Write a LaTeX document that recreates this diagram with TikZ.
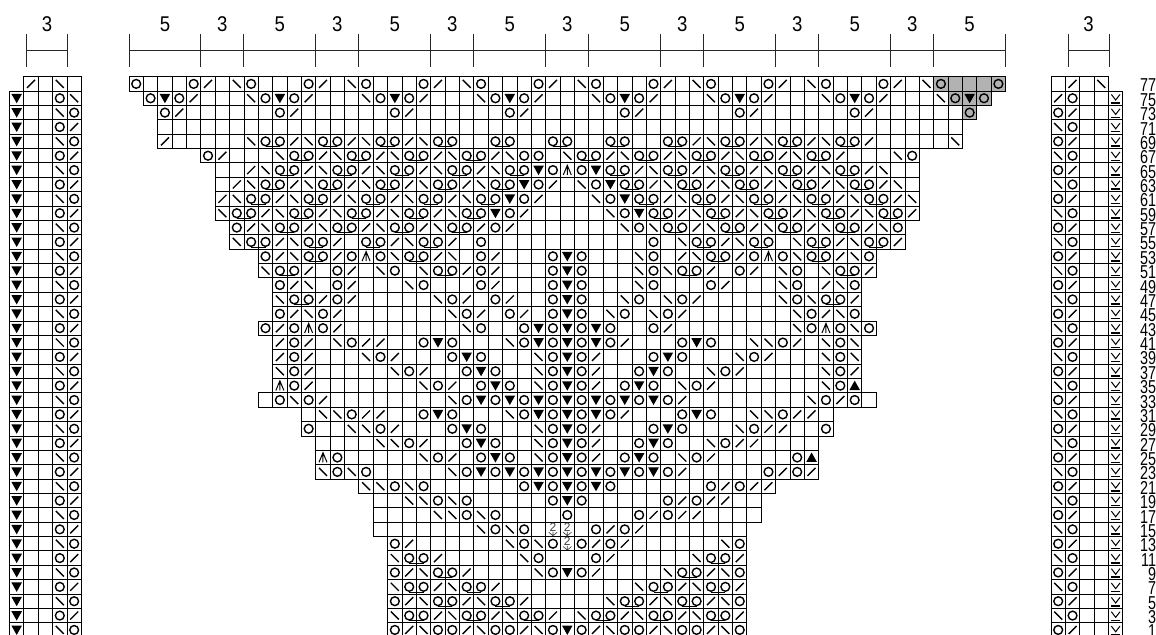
\documentclass[tikz,border=0pt]{standalone}
\usepackage{fontspec}
\usepackage{graphicx}
\setmainfont{Liberation Sans}

\newcount\cellcol
\newcommand{\cellpitch}{14.37}
\newcommand{\charttop}{76.7}

\newcommand{\drawcell}[1]{%
  \pgfmathsetmacro{\cellx}{\chartx+\cellpitch*\cellcol}%
  \pgfmathsetmacro{\celly}{\charttop+\cellpitch*\chartrowno}%
  \draw[cellbox] (\cellx,\celly) rectangle ++(\cellpitch,\cellpitch);%
  \ifx#1-\else
    \pic at ({\cellx+\cellpitch/2},{\celly+\cellpitch/2}) {sym#1};%
  \fi}
\def\scancell#1{\ifx#1;\else\drawcell{#1}\advance\cellcol by 1 \expandafter\scancell\fi}
\newcommand{\chartrow}[4]{%
  \def\chartx{#1}\def\chartrowno{#2}\cellcol=#3\relax
  \expandafter\scancell#4;}

\begin{document}
\begin{tikzpicture}[
    x=0.75pt, y=-0.75pt,
    cellbox/.style={draw=black, line width=0.68pt},
    stitch/.style={draw=black, line width=1.05pt},
    thinstitch/.style={draw=black, line width=0.75pt},
    tick/.style={draw=black!85, line width=0.7pt},
    shaded/.style={fill=black!30},
    repeatlabel/.style={inner sep=0pt, font=\fontsize{16}{16}\selectfont},
    rowlabel/.style={inner sep=0pt, anchor=east, font=\fontsize{14}{14}\selectfont},
    symo/.pic={\draw[stitch] (0,0) circle (4.4);},
    symq/.pic={\draw[stitch] (0,0) circle (4.4);
               \draw[thinstitch] (0,5.2) -- (14.37,5.2);},
    syml/.pic={\draw[stitch] (-4,4) -- (4,-4);},
    symr/.pic={\draw[stitch] (-4,-4) -- (4,4);},
    symv/.pic={\fill (-5.3,-4.4) -- (5.3,-4.4) -- (0,5) -- cycle;},
    syma/.pic={\fill (-5.3,4.4) -- (5.3,4.4) -- (0,-5) -- cycle;},
    symw/.pic={\draw[thinstitch] (0,-4.8) -- (0,4.8) (-4,4.8) -- (0,-4.8) -- (4,4.8);},
    syms/.pic={\draw[thinstitch] (-4.3,-3.8) -- (0,1.8) -- (4.3,-3.8);
               \draw[stitch] (-4.8,4.7) -- (4.8,4.7);},
    symt/.pic={\node[inner sep=0pt, text=black!75, font=\fontsize{9}{9}\selectfont] (twodigit) at (0,-2.4) {2};
               \draw[draw=black!75, line width=0.5pt] (-4.2,2.8) -- (0,6.4) -- (4.2,2.8) (0,2.2) -- (0,6.4);},
]
\clip (0,0) rectangle (1156,635);

\foreach \rowno/\firstcol/\lastcol in {0/56/61, 1/57/60, 2/58/59}
    \fill[shaded] ({129+\cellpitch*\firstcol},{\charttop+\cellpitch*\rowno}) rectangle ({129+\cellpitch*\lastcol},{\charttop+\cellpitch*(\rowno+1)});

\foreach \tickx in {26.7,67.3,1068.3,1109}
    \draw[tick] (\tickx,34.5) -- (\tickx,67.5);
\draw[tick] (26.7,50) -- (67.3,50);
\draw[tick] (1068.3,50) -- (1109,50);
\draw[tick] (129,50) -- (1005.7,50);
\foreach \tickcol in {0,8,...,56}
    \draw[tick] ({129+\cellpitch*\tickcol},34.5) -- ({129+\cellpitch*\tickcol},67.5);
\foreach \tickcol in {5,13,...,61}
    \draw[tick] ({129+\cellpitch*\tickcol},34.5) -- ({129+\cellpitch*\tickcol},67.5);

\node[repeatlabel] (leftrepeat) at (47,24.5) {\scalebox{.87}[1]{3}};
\node[repeatlabel] (rightrepeat) at (1088.5,24.5) {\scalebox{.87}[1]{3}};
\foreach \tickcol in {0,8,...,56}
    \node[repeatlabel] (five\tickcol) at ({129+\cellpitch*(\tickcol+2.5)},24.5) {\scalebox{.87}[1]{5}};
\foreach \tickcol in {5,13,...,53}
    \node[repeatlabel] (three\tickcol) at ({129+\cellpitch*(\tickcol+1.5)},24.5) {\scalebox{.87}[1]{3}};

\foreach \rowno/\startcol/\cells in {
    0/0/o---ol-ro---ol-ro---ol-ro---ol-ro---ol-ro---ol-ro---ol-ro---o,
    1/1/ovol---rovol---rovol---rovol---rovol---rovol---rovol---rovo,
    2/2/ol------ol------ol------ol------ol------ol------ol------o,
    3/2/--------------------------------------------------------,
    4/2/l-----rqolrqolrqolrqo--qo--qo--qo--qolrqolrqolrqol-----r,
    5/5/ol---rqolrqolrqolrqolroo-rqolrqolrqolrqolrqol---ro,
    6/6/--lrqolrqolrqolrqolrqovowovqolrqolrqolrqolrqolr--,
    7/6/-lrqolrqolrqolrqolrqovol-rovqolrqolrqolrqolrqolr-,
    8/6/lrqolrqolrqolrqolrqovol---rovqolrqolrqolrqolrqolr,
    9/6/rqolrqolrqolrqolrqovol-----rovqolrqolrqolrqolrqol,
    10/7/olrqolrqolrqolrqolol-------rorqolrqolrqolrqolro,
    11/7/rqolrqol-qolrqol-o-----------o-rqolrqo-rqolrqol,
    12/9/olrqoloworqolr-ol---ovo---ro-lrqoloworqolro,
    13/9/rqol-ol-ro-rqolol---ovo---rorqol-ol-ro-rqol,
    14/10/olr-ol---ro---ol---ovo---ro---ol---ro-lro,
    15/10/rqolol-----rol-ol--ovo--ro-rol-----rorqol,
    16/10/olrol-------rol-ol-ovo-ro-rol-------rolro,
    17/9/olowol--------ro--ovovovo--ol--------roworo,
    18/10/lol-roll--ovo---rovovovol---ovo--rrol-ror,
    19/10/lol---rol---ovo---rovol---ovo---rol---ror,
    20/10/rol-----rol--ovo--rovol--ovo--rol-----rol,
    21/10/wol-------rol-ovo-rovol-ovo-rol-------roa,
    22/9/-orol--------rovovovovovovovol--------rolo-,
    23/12/-rroll--ovo---rovovovol---ovo--rroll-,
    24/12/o--rrol---ovo---rovol---ovo---roll--o,
    25/13/----rrol--ovo--rovol--ovo--roll----,
    26/13/wo-----rol-ovo-rovol-ovo-rol-----oa,
    27/13/roro-----rovovovovovovovol-----olol,
    28/16/rroro------ovovovo------ololl,
    29/17/--rroro-----ovo-----ololl--,
    30/17/----rroro----o----ololl----,
    31/17/-------roro-tt-olol-------,
    32/18/ol------rorotolol------ro,
    33/18/rqol-----ro---ol-----rqol,
    34/18/olrqol----rovol----rqolro,
    35/18/rqolrqol---------rqolrqol,
    36/18/olrqolrqol-----rqolrqolro,
    37/18/rqolrqolrqol-rqolrqolrqol,
    38/18/olrqolrqolrovolrqolrqolro}
    {\chartrow{129}{\rowno}{\startcol}{\cells}}

\foreach \rowno/\startcol/\cells in {0/1/l-r-, 1/0/v--or}
    {\chartrow{9.5}{\rowno}{\startcol}{\cells}}
\foreach \rowno in {2,4,...,38}
    {\chartrow{9.5}{\rowno}{0}{v--ro}}
\foreach \rowno in {3,5,...,37}
    {\chartrow{9.5}{\rowno}{0}{v--ol}}

\foreach \rowno/\startcol/\cells in {0/0/-l-r, 1/0/lo--s}
    {\chartrow{1051}{\rowno}{\startcol}{\cells}}
\foreach \rowno in {2,4,...,38}
    {\chartrow{1051}{\rowno}{0}{ol--s}}
\foreach \rowno in {3,5,...,37}
    {\chartrow{1051}{\rowno}{0}{ro--s}}

\foreach \rowno in {0,...,38} {
    \pgfmathtruncatemacro{\rownumber}{77-2*\rowno}
    \node[rowlabel] (num\rownumber) at (1156.3,{\charttop+\cellpitch*(\rowno+.5)+1.6}) {\scalebox{.77}[1]{\rownumber}};
}
\end{tikzpicture}
\end{document}
